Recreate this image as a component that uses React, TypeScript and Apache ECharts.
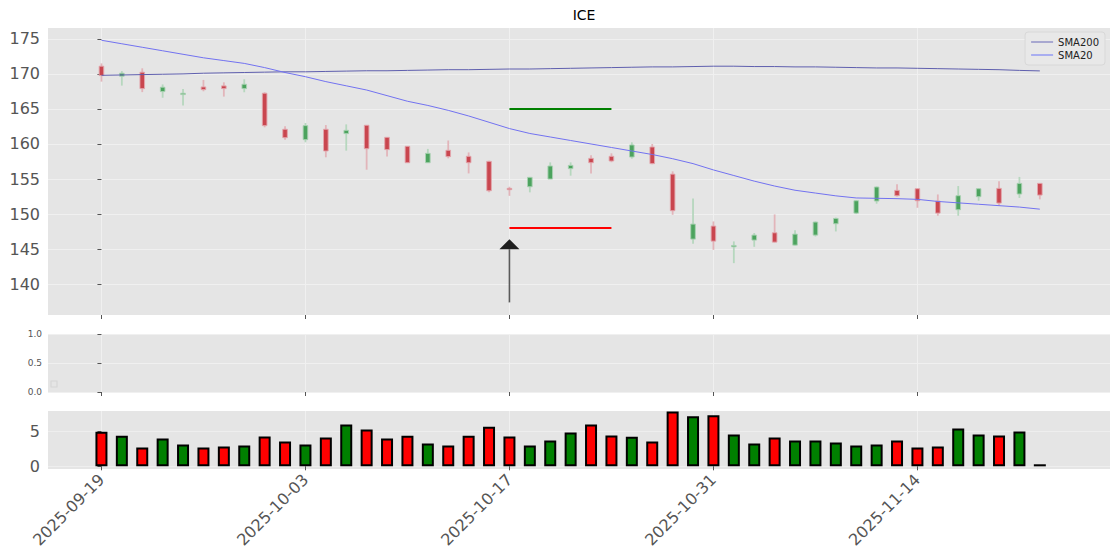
import React, { useEffect, useRef } from "react";
import * as echarts from "echarts";

const tickIndex = [0, 10, 20, 30, 40];
const tickLabels = ["2025-09-19", "2025-10-03", "2025-10-17", "2025-10-31", "2025-11-14"];

const opens = [171.1, 169.67, 170.24, 167.48, 167.05, 168.14, 168.29, 167.9, 167.24, 162.1, 160.62, 162.1, 161.48, 162.67, 160.95, 159.67, 157.33, 159.1, 158.24, 157.52, 153.67, 153.9, 155.0, 156.48, 157.95, 158.24, 158.14, 159.57, 155.7, 146.43, 148.29, 145.33, 146.29, 147.33, 145.57, 147.0, 148.62, 150.14, 151.86, 153.38, 153.62, 151.86, 150.62, 152.48, 153.67, 152.86, 154.38];
const closes = [169.76, 170.1, 167.9, 168.1, 167.24, 167.76, 167.9, 168.52, 162.62, 160.9, 162.62, 159.0, 161.95, 159.33, 159.2, 157.33, 158.67, 158.2, 157.33, 153.33, 153.48, 155.24, 156.86, 156.95, 157.33, 157.57, 159.86, 157.2, 150.48, 148.57, 146.14, 145.52, 147.0, 146.0, 147.14, 148.86, 149.38, 151.9, 153.86, 152.62, 151.9, 150.14, 152.62, 153.62, 151.57, 154.38, 152.71];
const lows = [168.9, 168.33, 167.4, 166.6, 165.48, 167.52, 166.76, 167.38, 162.38, 160.62, 160.24, 158.1, 159.05, 156.33, 158.2, 157.3, 157.3, 157.95, 155.8, 153.1, 152.6, 153.1, 155.0, 155.48, 155.8, 157.4, 157.9, 157.1, 149.9, 145.76, 144.9, 143.0, 145.33, 145.95, 145.5, 146.8, 147.52, 150.0, 151.48, 152.5, 150.9, 149.76, 149.76, 151.9, 151.2, 152.3, 152.1];
const highs = [171.5, 170.4, 170.8, 168.5, 167.86, 169.14, 168.8, 169.24, 167.38, 162.52, 163.0, 162.7, 162.8, 162.7, 161.0, 159.7, 159.3, 160.5, 158.8, 157.6, 153.9, 155.3, 157.38, 157.38, 158.38, 158.67, 160.24, 160.0, 156.1, 152.24, 148.95, 146.1, 147.3, 149.95, 147.7, 148.95, 149.5, 152.0, 153.95, 154.24, 153.62, 152.8, 154.0, 153.7, 154.7, 155.3, 154.38];
const volumes = [4.9, 4.33, 2.67, 3.95, 3.1, 2.67, 2.8, 2.95, 4.24, 3.52, 3.1, 4.1, 5.95, 5.24, 3.95, 4.33, 3.24, 2.95, 4.33, 5.62, 4.24, 2.95, 3.67, 4.8, 5.95, 4.38, 4.19, 3.52, 7.8, 7.1, 7.24, 4.52, 3.24, 4.1, 3.67, 3.67, 3.38, 2.95, 3.1, 3.67, 2.67, 2.8, 5.38, 4.52, 4.38, 4.95, 0.29];
const sma200 = [169.8, 169.85, 169.9, 169.95, 170.0, 170.1, 170.15, 170.2, 170.25, 170.3, 170.3, 170.35, 170.4, 170.45, 170.45, 170.5, 170.55, 170.6, 170.6, 170.65, 170.7, 170.7, 170.75, 170.8, 170.85, 170.9, 170.95, 171.0, 171.0, 171.05, 171.1, 171.1, 171.05, 171.05, 171.0, 171.0, 170.95, 170.9, 170.85, 170.85, 170.8, 170.75, 170.7, 170.65, 170.6, 170.5, 170.43];
const sma20 = [174.8, 174.3, 173.8, 173.3, 172.8, 172.3, 171.9, 171.5, 170.9, 170.2, 169.6, 168.9, 168.3, 167.7, 166.9, 166.1, 165.5, 164.8, 164.0, 163.1, 162.2, 161.5, 161.0, 160.5, 160.0, 159.5, 159.0, 158.5, 157.9, 157.2, 156.3, 155.5, 154.7, 154.0, 153.4, 153.0, 152.6, 152.3, 152.25, 152.2, 152.1, 151.8, 151.6, 151.4, 151.2, 151.0, 150.7];

const targetLevel = { from: 20, to: 25, value: 165 };
const stopLevel = { from: 20, to: 25, value: 148 };
const arrowSignal = { index: 20, base: 137.4, tip: 146.4 };

const X_MIN = -2.62;
const X_MAX = 49.44;
const FONT = "DejaVu Sans";
const LABEL = "#555555";

export default function App() {
  const ref = useRef<HTMLDivElement>(null);
  useEffect(() => {
    if (!ref.current) return;
    const chart = echarts.init(ref.current, undefined, { renderer: "svg" });

    const candleData = opens.map((o, i) => [i, o, closes[i], lows[i], highs[i]]);
    const volData = volumes.map((v, i) => ({
      value: [i, v],
      itemStyle: { color: closes[i] >= opens[i] ? "#008000" : "#ff0000" },
    }));

    const xAxisBase = (gridIndex: number, showLabels: boolean) => ({
      type: "value",
      gridIndex,
      min: X_MIN,
      max: X_MAX,
      axisLine: { show: false },
      axisTick: {
        show: true,
        customValues: tickIndex,
        length: 4,
        lineStyle: { color: LABEL },
      },
      axisLabel: {
        show: showLabels,
        customValues: tickIndex,
        rotate: 45,
        fontSize: 16,
        fontFamily: FONT,
        color: LABEL,
        margin: 8,
        formatter: (v: number) => {
          const k = tickIndex.indexOf(Math.round(v));
          return k >= 0 ? tickLabels[k] : "";
        },
      },
      splitLine: { show: true, lineStyle: { color: "#f0f0f0", width: 1 } },
    });

    const option: any = {
      animation: false,
      backgroundColor: "#ffffff",
      title: {
        text: "ICE",
        left: 579,
        top: 3,
        textAlign: "center",
        textStyle: { fontSize: 14, fontWeight: "normal", color: "#000", fontFamily: FONT },
      },
      legend: {
        orient: "vertical",
        right: 15,
        top: 32,
        icon: "rect",
        itemWidth: 22,
        itemHeight: 2,
        itemGap: 3,
        padding: [5, 6, 5, 6],
        backgroundColor: "#e8e8e8",
        borderColor: "#d8d8d8",
        borderWidth: 1,
        borderRadius: 3,
        textStyle: { fontSize: 10, color: "#222", fontFamily: FONT },
        data: [
          { name: "SMA200", itemStyle: { color: "#a8a8d0" } },
          { name: "SMA20", itemStyle: { color: "#a9aef0" } },
        ],
      },
      grid: [
        { left: 48, right: 10, top: 28, height: 287, backgroundColor: "#e5e5e5", show: true, borderWidth: 0 },
        { left: 48, right: 10, top: 334, height: 58, backgroundColor: "#e5e5e5", show: true, borderWidth: 0 },
        { left: 48, right: 10, top: 411, height: 58, backgroundColor: "#e5e5e5", show: true, borderWidth: 0 },
      ],
      xAxis: [xAxisBase(0, false), xAxisBase(1, false), xAxisBase(2, true)],
      yAxis: [
        {
          type: "value",
          gridIndex: 0,
          min: 135.6,
          max: 176.55,
          axisLine: { show: false },
          axisTick: { show: true, customValues: [140, 145, 150, 155, 160, 165, 170, 175], length: 4, lineStyle: { color: LABEL } },
          axisLabel: { customValues: [140, 145, 150, 155, 160, 165, 170, 175], fontSize: 16, fontFamily: FONT, color: LABEL, margin: 8 },
          splitLine: { show: true, lineStyle: { color: "#f0f0f0", width: 1 } },
        },
        {
          type: "value",
          gridIndex: 1,
          min: 0,
          max: 1,
          interval: 0.5,
          axisLine: { show: false },
          axisTick: { show: true, length: 4, lineStyle: { color: LABEL } },
          axisLabel: { fontSize: 9, fontFamily: FONT, color: LABEL, margin: 6, formatter: (v: number) => v.toFixed(1) },
          splitLine: { show: true, lineStyle: { color: "#f0f0f0", width: 1 } },
        },
        {
          type: "value",
          gridIndex: 2,
          min: -0.38,
          max: 7.86,
          axisLine: { show: false },
          axisTick: { show: true, customValues: [0, 5], length: 4, lineStyle: { color: LABEL } },
          axisLabel: { customValues: [0, 5], fontSize: 16, fontFamily: FONT, color: LABEL, margin: 8 },
          splitLine: { show: true, lineStyle: { color: "#eeeeee", width: 1 } },
        },
      ],
      series: [
        {
          name: "OHLC",
          type: "custom",
          xAxisIndex: 0,
          yAxisIndex: 0,
          data: candleData,
          encode: { x: 0, y: [1, 2, 3, 4] },
          z: 3,
          renderItem: (params: any, api: any) => {
            const x = api.value(0);
            const o = api.value(1);
            const c = api.value(2);
            const l = api.value(3);
            const h = api.value(4);
            const up = c >= o;
            const pO = api.coord([x, o]);
            const pC = api.coord([x, c]);
            const pL = api.coord([x, l]);
            const pH = api.coord([x, h]);
            const w = 4.6;
            const top = Math.min(pO[1], pC[1]);
            const ht = Math.max(Math.abs(pO[1] - pC[1]), 1.2);
            return {
              type: "group",
              children: [
                {
                  type: "line",
                  shape: { x1: pH[0], y1: pH[1], x2: pL[0], y2: pL[1] },
                  style: { stroke: up ? "#b6d7be" : "#e2b5ba", lineWidth: 1.8 },
                },
                {
                  type: "rect",
                  shape: { x: pO[0] - w / 2, y: top, width: w, height: ht },
                  style: {
                    fill: up ? "#4ca35e" : "#c9464f",
                    stroke: up ? "#a9d1b2" : "#e3a6ad",
                    lineWidth: 0.9,
                  },
                },
              ],
            };
          },
        },
        {
          name: "SMA200",
          type: "line",
          xAxisIndex: 0,
          yAxisIndex: 0,
          data: sma200.map((v, i) => [i, v]),
          showSymbol: false,
          lineStyle: { color: "#5f5fae", width: 1 },
          itemStyle: { color: "#5f5fae" },
          z: 4,
        },
        {
          name: "SMA20",
          type: "line",
          xAxisIndex: 0,
          yAxisIndex: 0,
          data: sma20.map((v, i) => [i, v]),
          showSymbol: false,
          lineStyle: { color: "#7272f0", width: 1 },
          itemStyle: { color: "#7272f0" },
          z: 4,
        },
        {
          name: "Target",
          type: "line",
          xAxisIndex: 0,
          yAxisIndex: 0,
          data: [
            [targetLevel.from, targetLevel.value],
            [targetLevel.to, targetLevel.value],
          ],
          showSymbol: false,
          lineStyle: { color: "#008000", width: 2 },
          z: 4,
        },
        {
          name: "Stop",
          type: "line",
          xAxisIndex: 0,
          yAxisIndex: 0,
          data: [
            [stopLevel.from, stopLevel.value],
            [stopLevel.to, stopLevel.value],
          ],
          showSymbol: false,
          lineStyle: { color: "#ff0000", width: 2 },
          z: 4,
        },
        {
          name: "Signal",
          type: "custom",
          xAxisIndex: 0,
          yAxisIndex: 0,
          data: [[arrowSignal.index, arrowSignal.base, arrowSignal.tip]],
          encode: { x: 0, y: [1, 2] },
          z: 5,
          renderItem: (params: any, api: any) => {
            const x = api.value(0);
            const pB = api.coord([x, api.value(1)]);
            const pT = api.coord([x, api.value(2)]);
            const headH = 10;
            return {
              type: "group",
              children: [
                {
                  type: "line",
                  shape: { x1: pB[0], y1: pB[1], x2: pT[0], y2: pT[1] + headH },
                  style: { stroke: "#5a5a5a", lineWidth: 1.6 },
                },
                {
                  type: "polygon",
                  shape: {
                    points: [
                      [pT[0], pT[1]],
                      [pT[0] - 10, pT[1] + headH],
                      [pT[0] + 10, pT[1] + headH],
                    ],
                  },
                  style: { fill: "#1e1e1e" },
                },
              ],
            };
          },
        },
        {
          name: "Volume",
          type: "bar",
          xAxisIndex: 2,
          yAxisIndex: 2,
          data: volData,
          barWidth: 12,
          itemStyle: { borderColor: "#000000", borderWidth: 2 },
          z: 3,
        },
      ],
      graphic: [
        {
          type: "rect",
          shape: { x: 51, y: 381, width: 6, height: 6 },
          style: { fill: "none", stroke: "#d6d6d6", lineWidth: 1.2 },
        },
      ],
    };

    chart.setOption(option);
    return () => chart.dispose();
  }, []);

  return (
    <div
      ref={ref}
      style={{ position: "fixed", left: 0, top: 0, width: 1120, height: 560 }}
    />
  );
}
